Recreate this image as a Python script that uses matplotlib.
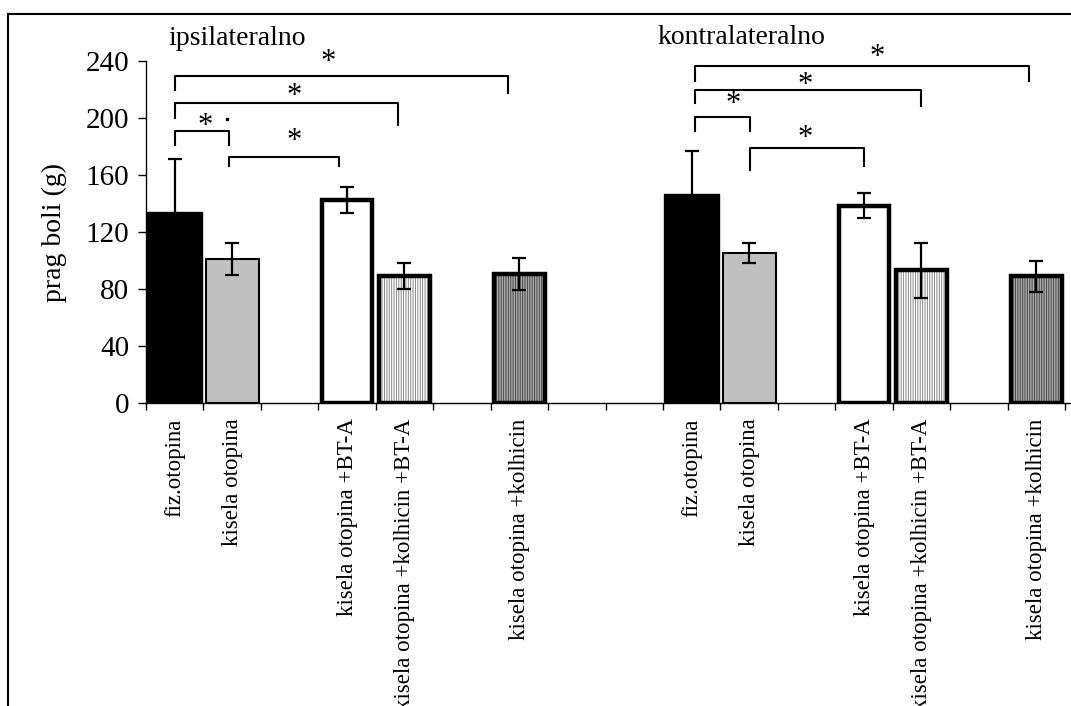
import matplotlib.pyplot as plt
from matplotlib.lines import Line2D

plt.rcParams['font.family'] = ['Liberation Serif', 'DejaVu Serif']
plt.rcParams['hatch.linewidth'] = 0.7

# data (prag boli in g, mean and error)
categories = ['fiz.otopina', 'kisela otopina', 'kisela otopina +BT-A',
              'kisela otopina +kolhicin +BT-A', 'kisela otopina +kolhicin']
groups = ['ipsilateralno', 'kontralateralno']
ipsi_mean = [134, 101, 142.5, 89, 90.5]
ipsi_err = [37, 11, 9, 9, 11]
contra_mean = [147, 105.5, 138.5, 93, 89]
contra_err = [30, 7, 9, 19, 11]
y_ticks = [0, 40, 80, 120, 160, 200, 240]

# slot layout (Excel style gaps between bars)
slot_in_group = [0, 1, 3, 4, 6]
group_offset = [0, 9]
n_slots = 16

# bar styles: face, hatch colour, hatch, edge width, bar width
styles = [
    dict(face='black', hcol='black', hatch=None, lw=1.0, w=0.95),
    dict(face='#c0c0c0', hcol='#c0c0c0', hatch=None, lw=1.5, w=0.92),
    dict(face='white', hcol='white', hatch=None, lw=3.2, w=0.86),
    dict(face='white', hcol='#8a8a8a', hatch='|' * 7, lw=3.2, w=0.89),
    dict(face='#a8a8a8', hcol='#4a4a4a', hatch='|' * 7, lw=3.2, w=0.89),
]

# significance brackets: x1, x2, y line, left drop end, right drop end, star x, star y
brackets = [
    (0.0, 5.81, 229.5, 219.6, 217.7, 2.67, 238.6),
    (0.0, 3.88, 210.7, 200.0, 195.1, 2.08, 215.2),
    (0.0, 0.945, 190.9, 181.0, 181.0, 0.53, 193.7),
    (0.94, 2.86, 172.8, 166.5, 166.5, 2.08, 183.4),
    (9.05, 14.88, 236.7, 226.0, 226.0, 12.23, 242.6),
    (9.05, 12.99, 219.6, 210.5, 208.4, 10.98, 222.7),
    (9.05, 10.02, 200.7, 190.9, 190.9, 9.72, 209.8),
    (10.02, 12.0, 178.7, 163.5, 166.3, 10.98, 185.3),
]

W, H = 1071, 706
fig = plt.figure(figsize=(W / 100, H / 100), dpi=100)
ax = fig.add_axes([146 / W, (H - 403) / H, (W - 146) / W, (403 - 61) / H])

means = [ipsi_mean, contra_mean]
errs = [ipsi_err, contra_err]
centers = []
labels = []
for g in range(2):
    for i, cat in enumerate(categories):
        x = group_offset[g] + slot_in_group[i]
        st = styles[i]
        if st['hatch']:
            ax.bar(x, means[g][i], width=st['w'], color=st['face'],
                   edgecolor=st['hcol'], hatch=st['hatch'], linewidth=0, zorder=2)
            ax.bar(x, means[g][i], width=st['w'], fill=False,
                   edgecolor='black', linewidth=st['lw'], zorder=3)
        else:
            ax.bar(x, means[g][i], width=st['w'], color=st['face'],
                   edgecolor='black', linewidth=st['lw'], zorder=3)
        ax.errorbar(x, means[g][i], yerr=errs[g][i], fmt='none', ecolor='black',
                    elinewidth=1.6, capsize=5, capthick=1.6, zorder=4)
        centers.append(x)
        labels.append(cat)

ax.set_xlim(-0.5, (W - 146) / 57.44 - 0.5)
ax.set_ylim(0, 240)
ax.set_yticks(y_ticks)
ax.tick_params(axis='y', labelsize=21, length=6, width=1, pad=6)
ax.set_xticks(centers, labels, rotation=90, fontsize=16.5)
ax.tick_params(axis='x', which='major', length=0, pad=11)
ax.set_xticks([b - 0.5 for b in range(n_slots + 1)], minor=True)
ax.tick_params(axis='x', which='minor', length=5, width=1, direction='out')
for s in ['top', 'right']:
    ax.spines[s].set_visible(False)
for s in ['left', 'bottom']:
    ax.spines[s].set_linewidth(1)

ax.set_ylabel('prag boli (g)', fontsize=20)
ax.yaxis.set_label_coords(-0.085, 0.5)

ax.text(-0.117, 251.2, groups[0], fontsize=20, va='baseline', ha='left', clip_on=False)
ax.text(8.40, 251.9, groups[1], fontsize=20, va='baseline', ha='left', clip_on=False)

for x1, x2, yl, d1, d2, sx, sy in brackets:
    ax.plot([x1, x1, x2, x2], [d1, yl, yl, d2], color='black', lw=1.5,
            clip_on=False, zorder=5)
    ax.text(sx, sy, '*', fontsize=22, ha='center', va='center', clip_on=False)

# stray dot next to the first small bracket
ax.plot([0.915], [199.3], marker='s', markersize=1.5, color='black', clip_on=False)

# outer frame (top and left edge)
fig.add_artist(Line2D([8 / W, 1], [(H - 14) / H] * 2, color='black', lw=1.5))
fig.add_artist(Line2D([8 / W] * 2, [0, (H - 14) / H], color='black', lw=1.5))

fig.savefig('out.png', dpi=100)
